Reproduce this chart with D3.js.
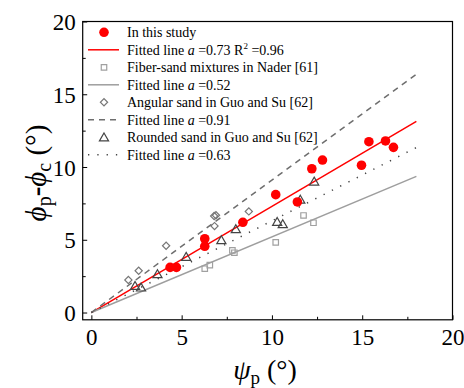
<!DOCTYPE html>
<html><head><meta charset="utf-8">
<script src="https://cdn.jsdelivr.net/npm/d3@7"></script>
<style>body{margin:0;background:#fff;}</style>
</head>
<body><svg id="c" width="464" height="388"></svg>
<script>
// ---- data ----
const studyX = [4.36,4.71,6.28,6.28,8.39,10.21,11.41,12.21,12.8,14.96,15.37,16.29,16.73];
const studyY = [3.1,3.1,5.07,4.55,6.2,8.1,7.6,9.88,10.48,10.12,11.74,11.79,11.35];
const naderX = [6.28,6.56,7.81,7.92,10.21,11.75,12.3];
const naderY = [3.01,3.26,4.27,4.11,4.82,6.67,6.17];
const angularX = [2.05,2.62,4.14,6.8,6.9,6.82,8.72];
const angularY = [2.23,2.87,4.59,6.63,6.68,5.94,6.95];
const roundedX = [2.42,2.75,3.66,5.25,7.2,8.0,10.29,10.6,11.57,12.34];
const roundedY = [1.77,1.66,2.58,3.77,4.91,5.67,6.17,6.01,7.7,8.94];
const slopes = [0.73,0.52,0.91,0.63];
const fitX = [0,18];
const xTicks = [0,5,10,15,20];
const yTicks = [0,5,10,15,20];
const minorTicks = [2.5,7.5,12.5,17.5];

const FONT = "Liberation Serif";
const svg = d3.select("#c");
const L=82.7,R=452.5,T=21.5,B=319.8;
const x = d3.scaleLinear().domain([-0.48,20]).range([L,R]);
const y = d3.scaleLinear().domain([-0.5,20]).range([B,T]);

// axes
const gx = svg.append("g").attr("transform",`translate(0,${B})`)
  .call(d3.axisBottom(x).tickValues(xTicks).tickSizeInner(-4.5).tickSizeOuter(0).tickPadding(9));
const gxm = svg.append("g").attr("transform",`translate(0,${B})`)
  .call(d3.axisBottom(x).tickValues(minorTicks).tickSizeInner(-3).tickSizeOuter(0).tickFormat(""));
const gy = svg.append("g").attr("transform",`translate(${L},0)`)
  .call(d3.axisLeft(y).tickValues(yTicks).tickSizeInner(-4.5).tickSizeOuter(0).tickPadding(7));
const gym = svg.append("g").attr("transform",`translate(${L},0)`)
  .call(d3.axisLeft(y).tickValues(minorTicks).tickSizeInner(-3).tickSizeOuter(0).tickFormat(""));
[gx,gxm,gy,gym].forEach(g=>{g.attr("font-family",FONT);g.select(".domain").remove();g.selectAll("line").attr("stroke","#000");});
gx.selectAll("text").attr("font-family",FONT).attr("font-size",23).attr("fill","#000");
gy.selectAll("text").attr("font-family",FONT).attr("font-size",23).attr("fill","#000").attr("dy","0.35em");
svg.append("rect").attr("x",L).attr("y",T).attr("width",R-L).attr("height",B-T)
  .attr("fill","none").attr("stroke","#000").attr("stroke-width",1.2);

// fitted lines
const lineStyles = [
  {c:"#ff0000",w:1.5,d:null},
  {c:"#9e9e9e",w:1.5,d:null},
  {c:"#6e6e6e",w:1.5,d:"6,5"},
  {c:"#444",w:1.5,d:"1.3,8"}
];
slopes.forEach((a,i)=>{
  const s=lineStyles[i];
  svg.append("line").attr("x1",x(fitX[0])).attr("y1",y(a*fitX[0]))
    .attr("x2",x(fitX[1])).attr("y2",y(a*fitX[1]))
    .attr("stroke",s.c).attr("stroke-width",s.w).attr("stroke-dasharray",s.d);
});

// markers
const sq = d3.symbol().type(d3.symbolSquare).size(30);
const di = d3.symbol().type(d3.symbolSquare).size(26);
const tr = d3.symbol().type(d3.symbolTriangle).size(36);
svg.append("g").selectAll("path").data(naderX).join("path")
  .attr("d",sq).attr("transform",(d,i)=>`translate(${x(d)},${y(naderY[i])})`)
  .attr("fill","none").attr("stroke","#a0a0a0").attr("stroke-width",1.2);
svg.append("g").selectAll("path").data(angularX).join("path")
  .attr("d",di).attr("transform",(d,i)=>`translate(${x(d)},${y(angularY[i])}) rotate(45)`)
  .attr("fill","none").attr("stroke","#777").attr("stroke-width",1.2);
svg.append("g").selectAll("path").data(roundedX).join("path")
  .attr("d",tr).attr("transform",(d,i)=>`translate(${x(d)},${y(roundedY[i])})`)
  .attr("fill","none").attr("stroke","#444").attr("stroke-width",1.2);
svg.append("g").selectAll("circle").data(studyX).join("circle")
  .attr("cx",d=>x(d)).attr("cy",(d,i)=>y(studyY[i])).attr("r",4.8).attr("fill","#ff0000");

// legend
const lg = svg.append("g");
const rowY = [32.3,49.8,67.3,84.8,102.3,119.8,137.3,154.8];
const sx=104, lx1=88, lx2=119, tx=127;
lg.append("circle").attr("cx",sx).attr("cy",rowY[0]).attr("r",4.8).attr("fill","#ff0000");
lg.append("path").attr("d",sq).attr("transform",`translate(${sx},${rowY[2]})`).attr("fill","none").attr("stroke","#a0a0a0").attr("stroke-width",1.2);
lg.append("path").attr("d",di).attr("transform",`translate(${sx},${rowY[4]}) rotate(45)`).attr("fill","none").attr("stroke","#777").attr("stroke-width",1.2);
lg.append("path").attr("d",tr).attr("transform",`translate(${sx},${rowY[6]+1})`).attr("fill","none").attr("stroke","#444").attr("stroke-width",1.2);
[1,3,5,7].forEach((r,i)=>{
  const s=lineStyles[i];
  lg.append("line").attr("x1",lx1).attr("x2",lx2).attr("y1",rowY[r]).attr("y2",rowY[r])
    .attr("stroke",s.c).attr("stroke-width",s.w).attr("stroke-dasharray",s.d);
});
const labels = [
  [["In this study"]],
  [["Fitted line "],["a","i"],[" =0.73 R"],["2","sup"],[" =0.96","after"]],
  [["Fiber-sand mixtures in Nader [61]"]],
  [["Fitted line "],["a","i"],[" =0.52"]],
  [["Angular sand in Guo and Su [62]"]],
  [["Fitted line "],["a","i"],[" =0.91"]],
  [["Rounded sand in Guo and Su [62]"]],
  [["Fitted line "],["a","i"],[" =0.63"]]
];
labels.forEach((parts,r)=>{
  const t = lg.append("text").attr("x",tx).attr("y",rowY[r]+5).attr("font-family",FONT).attr("font-size",14).attr("fill","#000");
  parts.forEach(p=>{
    const ts=t.append("tspan").attr("font-family",FONT).text(p[0]);
    if(p[1]==="i") ts.attr("font-style","italic");
    if(p[1]==="sup") ts.attr("font-size",9).attr("dy",-6);
    if(p[1]==="after") ts.attr("dy",6);
  });
});

// axis titles
const xt = svg.append("text").attr("x",265).attr("y",379).attr("text-anchor","middle").attr("font-family",FONT).attr("font-size",28).attr("fill","#000");
xt.append("tspan").attr("font-family",FONT).text("ψ").attr("font-style","italic");
xt.append("tspan").attr("font-family",FONT).text("p").attr("font-size",19).attr("dy",5);
xt.append("tspan").attr("font-family",FONT).text(" (°)").attr("dy",-5);

const yt = svg.append("text").attr("transform","translate(46,173) rotate(-90)").attr("text-anchor","middle").attr("font-family",FONT).attr("font-size",29).attr("fill","#000");
yt.append("tspan").attr("font-family",FONT).text("ϕ").attr("font-style","italic");
yt.append("tspan").attr("font-family",FONT).text("p").attr("font-size",20).attr("dy",5);
yt.append("tspan").attr("font-family",FONT).text("-").attr("dy",-5).attr("font-weight","bold");
yt.append("tspan").attr("font-family",FONT).text("ϕ").attr("font-style","italic");
yt.append("tspan").attr("font-family",FONT).text("c").attr("font-size",20).attr("dy",5);
yt.append("tspan").attr("font-family",FONT).text(" (°)").attr("dy",-5);
</script></body></html>
